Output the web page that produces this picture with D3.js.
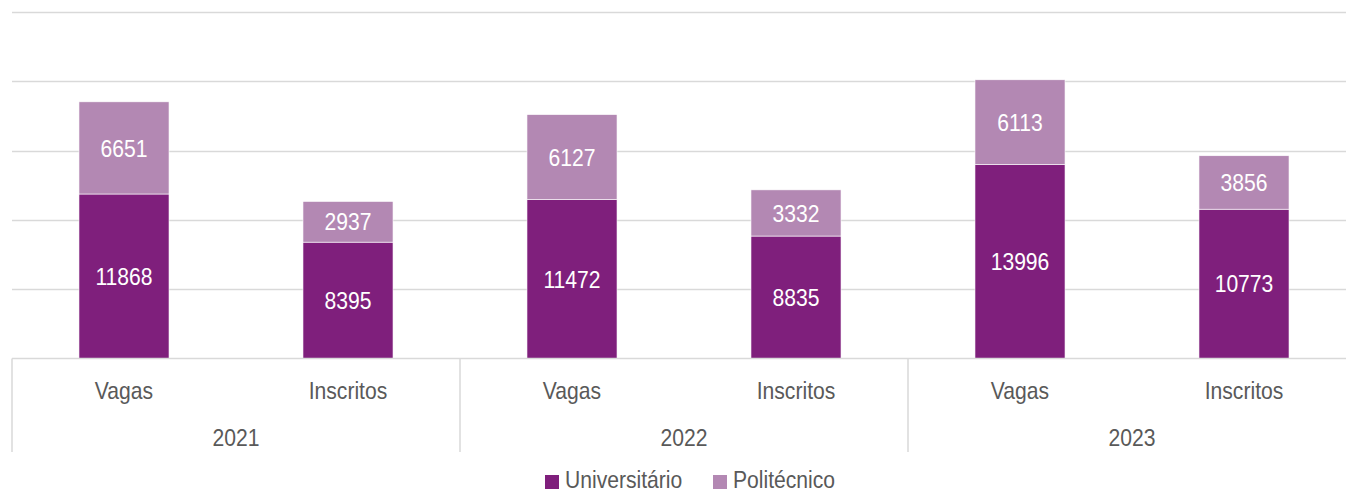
<!DOCTYPE html>
<html><head><meta charset="utf-8">
<script src="https://cdn.jsdelivr.net/npm/d3@7"></script>
<style>
html,body{margin:0;padding:0;background:#fff;}
svg{display:block;font-family:"Liberation Sans",Arial,sans-serif;}
</style></head><body>
<svg id="chart" width="1346" height="492"></svg>
<script>
const years = ["2021","2022","2023"];
const kinds = ["Vagas","Inscritos"];
const universitario = [11868, 8395, 11472, 8835, 13996, 10773];
const politecnico = [6651, 2937, 6127, 3332, 6113, 3856];
const seriesNames = ["Universitário","Politécnico"];
const yTicks = [0,5000,10000,15000,20000,25000];

const colors = ["#7F1F7C","#B388B3"];
const textCol = "#595959";
const gridCol = "#D9D9D9";
const SX = 0.88; // narrow-font emulation

const svg = d3.select("#chart");
const cats = [];
years.forEach(yr => kinds.forEach(k => cats.push(yr + "|" + k)));

const plotLeft = 12, plotRight = 1356, plotBase = 358.5, plotTop = 12;
const x = d3.scaleBand().domain(cats).range([plotLeft, plotRight]).paddingInner(0.598).paddingOuter(0.299);
const y = d3.scaleLinear().domain([0, 25000]).range([plotBase, plotTop]);

function narrow(sel, xf) {
  return sel.attr("transform", `scale(${SX},1)`).attr("x", (d, i) => xf(d, i) / SX);
}

// gridlines
svg.append("g").selectAll("line").data(yTicks.slice(1)).join("line")
  .attr("x1", plotLeft).attr("x2", plotRight)
  .attr("y1", d => Math.round(y(d)) + 0.5).attr("y2", d => Math.round(y(d)) + 0.5)
  .attr("stroke", gridCol).attr("stroke-width", 1.5);

const stackData = cats.map((c, i) => ({cat: c, "Universitário": universitario[i], "Politécnico": politecnico[i]}));
const stacked = d3.stack().keys(seriesNames)(stackData);

const g = svg.append("g");
stacked.forEach((layer, li) => {
  g.selectAll(null).data(layer).join("rect")
    .attr("x", d => x(d.data.cat))
    .attr("width", x.bandwidth())
    .attr("y", d => y(d[1]))
    .attr("height", d => y(d[0]) - y(d[1]))
    .attr("fill", colors[li])
    .attr("stroke", "#fff").attr("stroke-width", 0.6);
  g.selectAll(null).data(layer).join("text")
    .call(narrow, d => x(d.data.cat) + x.bandwidth() / 2)
    .attr("y", d => (y(d[0]) + y(d[1])) / 2)
    .attr("dy", "0.36em")
    .attr("text-anchor", "middle")
    .attr("fill", "#fff")
    .attr("font-size", 24)
    .text(d => d[1] - d[0]);
});

// axis baseline
svg.append("line").attr("x1", plotLeft).attr("x2", plotRight).attr("y1", plotBase).attr("y2", plotBase)
  .attr("stroke", gridCol).attr("stroke-width", 1.5);
// group separators
const groupW = (plotRight - plotLeft) / years.length;
svg.append("g").selectAll("line").data(d3.range(years.length + 1)).join("line")
  .attr("x1", d => plotLeft + d * groupW).attr("x2", d => plotLeft + d * groupW)
  .attr("y1", plotBase).attr("y2", 452)
  .attr("stroke", gridCol).attr("stroke-width", 1.5);

// category labels
svg.append("g").selectAll("text").data(cats).join("text")
  .call(narrow, d => x(d) + x.bandwidth() / 2)
  .attr("y", 399)
  .attr("text-anchor", "middle")
  .attr("fill", textCol).attr("font-size", 24)
  .text(d => d.split("|")[1]);
// year labels
svg.append("g").selectAll("text").data(years).join("text")
  .call(narrow, (d, i) => plotLeft + (i + 0.5) * groupW)
  .attr("y", 446)
  .attr("text-anchor", "middle")
  .attr("fill", textCol).attr("font-size", 24)
  .text(d => d);

// legend
const leg = svg.append("g");
const legX = [545, 713];
seriesNames.forEach((s, i) => {
  leg.append("rect").attr("x", legX[i]).attr("y", 475).attr("width", 14).attr("height", 14).attr("fill", colors[i]);
  leg.append("text").datum(s)
    .call(narrow, () => legX[i] + 20)
    .attr("y", 488)
    .attr("fill", textCol).attr("font-size", 24).text(s);
});
</script>
</body></html>
